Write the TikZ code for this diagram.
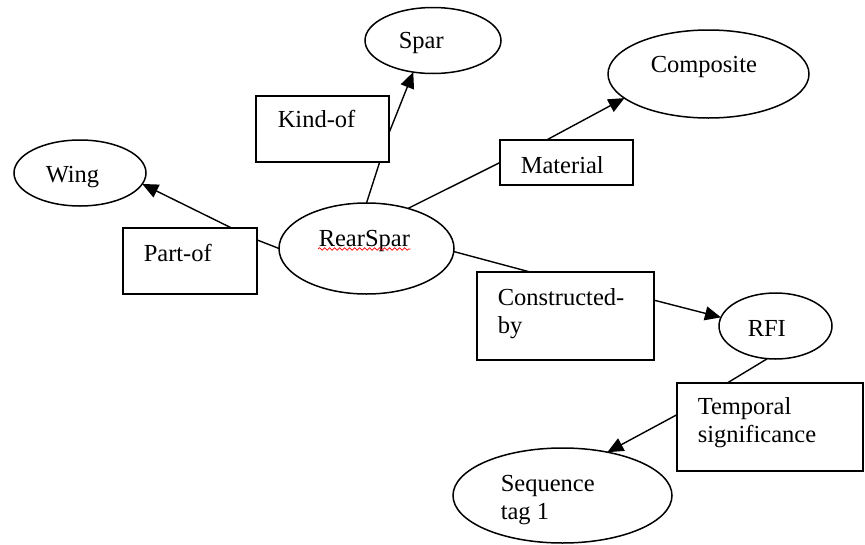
\documentclass[tikz,border=0pt]{standalone}
\usepackage{fontspec}
\setmainfont{Liberation Serif}
\usetikzlibrary{shapes.geometric,arrows.meta,calc,decorations.pathmorphing}
\begin{document}
\begin{tikzpicture}[x=1pt,y=-1pt,
  line width=1.5pt,
  concept/.style={draw, ellipse, inner sep=0pt, outer sep=0pt},
  relbox/.style={draw, rectangle, inner sep=0pt, outer sep=0pt},
  lbl/.style={anchor=base west, inner sep=0pt, font=\fontsize{24.5}{28}\selectfont, align=left},
  link/.style={line width=1.4pt},
  arrowlink/.style={link, -{Triangle[length=16pt,width=14pt]}},
]
\useasboundingbox (0,0) rectangle (865,544);

% concepts (ellipses) and relations (boxes)
\node[concept, minimum width=132pt, minimum height=66pt] (wing) at (80,173) {};
\node[relbox, minimum width=134pt, minimum height=66pt] (partof) at (190,261) {};
\node[relbox, minimum width=133pt, minimum height=66pt] (kindof) at (322.5,129) {};
\node[concept, minimum width=136pt, minimum height=66pt] (spar) at (433,40.5) {};
\node[concept, minimum width=175pt, minimum height=91pt] (rearspar) at (366.5,248.5) {};
\node[relbox, minimum width=133pt, minimum height=45pt] (material) at (566.5,162.5) {};
\node[concept, minimum width=201pt, minimum height=88pt] (composite) at (708.5,74) {};
\node[relbox, minimum width=177pt, minimum height=88pt] (constructed) at (565.5,316) {};
\node[concept, minimum width=113pt, minimum height=66pt] (rfi) at (775.5,326) {};
\node[relbox, minimum width=186pt, minimum height=88pt] (temporal) at (770,427) {};
\node[concept, minimum width=219pt, minimum height=95pt] (sequence) at (562.5,495.5) {};

% labels (multi-line labels are placed by the baseline of their last line)
\node[lbl] (wing-t) at (45,182) {Wing};
\node[lbl] (partof-t) at (143,261) {Part-of};
\node[lbl] (kindof-t) at (277,127) {Kind-of};
\node[lbl] (spar-t) at (398,48) {Spar};
\node[lbl] (rearspar-t) at (318,246.5) {RearSpar};
\node[lbl] (material-t) at (520,173) {Material};
\node[lbl] (composite-t) at (650,72) {Composite};
\node[lbl] (constructed-t) at (497,333) {Constructed-\\by};
\node[lbl] (rfi-t) at (747,336) {RFI};
\node[lbl] (temporal-t) at (697,442) {Temporal\\significance};
\node[lbl] (sequence-t) at (500,519) {Sequence\\tag 1};

% spelling underline
\draw[red, line width=0.7pt, decorate, decoration={snake, segment length=5pt, amplitude=1.3pt}]
  ($(rearspar-t.base west)+(0,2.5)$) -- ($(rearspar-t.base east)+(0,2.5)$);

% connectors
\draw[arrowlink] ($(partof.north west)!0.81!(partof.north east)$) -- (wing.-10);
\draw[link] ($(partof.north east)!0.18!(partof.south east)$) -- (rearspar.west);
\draw[link] (rearspar.north) -- ($(kindof.south west)!0.93!(kindof.south east)$);
\draw[arrowlink] ($(kindof.north east)!0.56!(kindof.south east)$) -- (spar.-122);
\draw[link] (rearspar.44) -- (material.west);
\draw[arrowlink] ($(material.north west)!0.35!(material.north east)$) -- (composite.-164);
\draw[link] (rearspar.-2) -- ($(constructed.north west)!0.3!(constructed.north east)$);
\draw[arrowlink] ($(constructed.north east)!0.32!(constructed.south east)$) -- (rfi.171);
\draw[link] (rfi.-104) -- ($(temporal.north west)!0.27!(temporal.north east)$);
\draw[arrowlink] ($(temporal.north west)!0.36!(temporal.south west)$) -- (sequence.44);
\end{tikzpicture}
\end{document}
